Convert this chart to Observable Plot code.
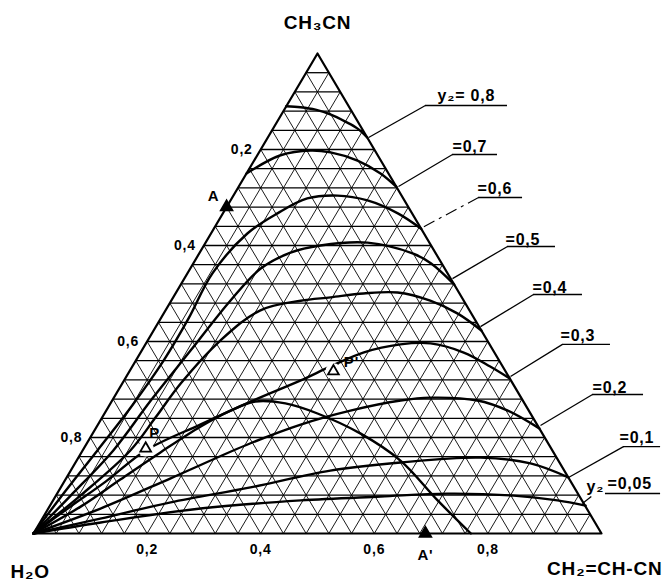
<!DOCTYPE html>
<html><head><meta charset="utf-8">
<script src="https://cdn.jsdelivr.net/npm/d3@7"></script>
<script src="https://cdn.jsdelivr.net/npm/@observablehq/plot@0.6"></script>
<style>body{margin:0;background:#fff}#chart{width:664px;height:583px}</style>
</head><body><div id="chart"></div>
<script>
// Compositions: [acrylonitrile, acetonitrile]; water = 1 - both
const y2Labels = ["y₂= 0,8", "=0,7", "=0,6", "=0,5", "=0,4", "=0,3", "=0,2", "=0,1", "=0,05"];
const curve08 = [[0,0.89],[0.026,0.888],[0.055,0.883],[0.086,0.873],[0.12,0.858],[0.148,0.844],[0.175,0.825]];
const curve07 = [[0,0.75],[0.041,0.788],[0.089,0.798],[0.126,0.794],[0.182,0.777],[0.236,0.75],[0.278,0.722]];
const curve06 = [[0,0],[0.01,0.075],[0.026,0.173],[0.04,0.263],[0.049,0.36],[0.049,0.448],[0.044,0.542],[0.064,0.625],[0.096,0.667],[0.133,0.698],[0.183,0.704],[0.241,0.694],[0.308,0.667],[0.365,0.635]];
const curve05 = [[0,0],[0.026,0.079],[0.054,0.173],[0.068,0.277],[0.086,0.381],[0.104,0.485],[0.124,0.552],[0.16,0.585],[0.205,0.6],[0.285,0.606],[0.377,0.583],[0.418,0.563],[0.481,0.519]];
const curve04 = [[0,0],[0.043,0.079],[0.084,0.173],[0.094,0.242],[0.103,0.313],[0.128,0.402],[0.167,0.465],[0.228,0.485],[0.277,0.492],[0.331,0.5],[0.39,0.502],[0.456,0.485],[0.518,0.458],[0.577,0.423]];
const curve03 = [[0,0],[0.037,0.056],[0.073,0.108],[0.111,0.173],[0.18,0.227],[0.251,0.279],[0.311,0.319],[0.349,0.348],[0.392,0.377],[0.449,0.394],[0.501,0.396],[0.569,0.377],[0.63,0.348],[0.677,0.323]];
const curve02 = [[0,0],[0.092,0.052],[0.184,0.115],[0.288,0.188],[0.357,0.227],[0.43,0.256],[0.508,0.277],[0.557,0.283],[0.643,0.277],[0.707,0.256],[0.781,0.219]];
const curve01 = [[0,0],[0.102,0.031],[0.209,0.065],[0.334,0.096],[0.457,0.131],[0.572,0.148],[0.708,0.158],[0.802,0.146],[0.883,0.117]];
const curve005 = [[0,0],[0.107,0.023],[0.268,0.052],[0.436,0.069],[0.573,0.077],[0.687,0.083],[0.806,0.079],[0.888,0.069],[0.943,0.058]];
const boundary = [[0,0],[0.055,0.056],[0.097,0.113],[0.139,0.169],[0.183,0.223],[0.219,0.256],[0.253,0.275],[0.308,0.271],[0.375,0.25],[0.472,0.208],[0.57,0.152],[0.677,0.069],[0.77,0]];
const pointNames = ["A", "A'", "P", "P'"];
const pointComps = [[0,0.68],[0.69,0],[0.109,0.177],[0.359,0.338]];
const tickValues = [0.2, 0.4, 0.6, 0.8];
const tickLabels = ["0,2", "0,4", "0,6", "0,8"];
const gridDivisions = 25;

// label layout (chart fractions: X along base, Y height)
const leaderLayout = [
  {tx:0.7113, ty:0.9125, u1:0.690, u2:0.8345, uy:0.8917, px:0.590, py:0.825},
  {tx:0.7377, ty:0.8063, u1:0.7377, u2:0.8169, uy:0.7896, px:0.6426, py:0.7229},
  {tx:0.7817, ty:0.7188, u1:0.7835, u2:0.861, uy:0.70, px:0.6849, py:0.6375, dash:true},
  {tx:0.831, ty:0.6125, u1:0.8345, u2:0.919, uy:0.598, px:0.7377, py:0.531},
  {tx:0.8785, ty:0.5125, u1:0.8803, u2:0.9665, uy:0.498, px:0.787, py:0.431},
  {tx:0.9278, ty:0.4125, u1:0.9313, u2:1.0158, uy:0.394, px:0.8398, py:0.327},
  {tx:0.9842, ty:0.3042, u1:0.9842, u2:1.074, uy:0.2896, px:0.8926, py:0.225},
  {tx:1.0317, ty:0.2, u1:1.0387, u2:1.104, uy:0.181, px:0.942, py:0.1167},
  {tx:1.0106, ty:0.1042, u1:1.007, u2:1.104, uy:0.0833, px:null}
];
const pointLabelOffsets = {"A": [-13, -11], "A'": [0, 22], "P": [9, -15], "P'": [18, -9]};

const proj = ([a, c]) => ({x: a + c / 2, y: c});
const curves = [curve08, curve07, curve06, curve05, curve04, curve03, curve02, curve01, curve005, boundary];
const curveData = curves.flatMap((pts, i) => pts.map(p => ({...proj(p), z: i})));

const grid = [];
for (let i = 1; i < gridDivisions; i++) {
  const k = i / gridDivisions;
  grid.push({x1: k / 2, y1: k, x2: 1 - k / 2, y2: k, h: true});
  grid.push({x1: k, y1: 0, x2: k + (1 - k) / 2, y2: 1 - k, h: false});
  grid.push({x1: 1 - k, y1: 0, x2: (1 - k) / 2, y2: 1 - k, h: false});
}
const border = [[0,0],[1,0],[0,1],[0,0]].map(proj);

const leaders = [], underlines = [], labelTexts = [];
leaderLayout.forEach((L, i) => {
  underlines.push({x1: L.u1, x2: L.u2, y: L.uy});
  if (L.px !== null) leaders.push({x1: L.u1, y1: L.uy, x2: L.px, y2: L.py, dash: !!L.dash});
  labelTexts.push({x: L.tx, y: L.ty, t: y2Labels[i]});
});
const extraY2 = [{x: 0.9736, y: 0.0979, t: "y₂"}];
const extraLeader = [{x1: 0.982, y1: 0.077, x2: 0.9665, y2: 0.0625, dash: false}];

const pts = pointNames.map((n, i) => ({...proj(pointComps[i]), n}));
const leftTicks = tickValues.map((w, i) => ({...proj([0, 1 - w]), t: tickLabels[i]}));
const bottomTicks = tickValues.map((v, i) => ({...proj([v, 0]), t: tickLabels[i]}));

const font = "Liberation Sans, DejaVu Sans, Arial, sans-serif";
const bold = {fontWeight: "bold", fill: "#000"};
const chart = Plot.plot({
  width: 664, height: 583, margin: 0,
  x: {domain: [0, 1], range: [33, 601], axis: null},
  y: {domain: [0, 1], range: [533, 53], axis: null},
  style: {fontFamily: font, background: "#fff", letterSpacing: "0.8px"},
  marks: [
    Plot.link(grid.filter(d => !d.h), {x1: "x1", y1: "y1", x2: "x2", y2: "y2", stroke: "#000", strokeWidth: 0.9}),
    Plot.link(grid.filter(d => d.h), {x1: "x1", y1: "y1", x2: "x2", y2: "y2", stroke: "#000", strokeWidth: 1.3}),
    Plot.line(border, {x: "x", y: "y", stroke: "#000", strokeWidth: 2.2}),
    Plot.line(curveData, {x: "x", y: "y", z: "z", stroke: "#000", strokeWidth: 2.4, curve: "catmull-rom"}),
    Plot.dot(pts.filter(d => d.n[0] === "P"), {x: "x", y: "y", r: 8, fill: "#fff", stroke: null}),
    Plot.link(leaders.filter(d => !d.dash).concat(extraLeader), {x1: "x1", y1: "y1", x2: "x2", y2: "y2", stroke: "#000", strokeWidth: 1.3}),
    Plot.link(leaders.filter(d => d.dash), {x1: "x1", y1: "y1", x2: "x2", y2: "y2", stroke: "#000", strokeWidth: 1.1, strokeDasharray: "12,5,3,5"}),
    Plot.ruleY(underlines, {x1: "x1", x2: "x2", y: "y", stroke: "#000", strokeWidth: 1.4}),
    Plot.text(labelTexts, {x: "x", y: "y", text: "t", textAnchor: "start", fontSize: 16, ...bold}),
    Plot.text(extraY2, {x: "x", y: "y", text: "t", textAnchor: "start", fontSize: 16, ...bold}),
    Plot.text(leftTicks, {x: "x", y: "y", text: "t", textAnchor: "end", dx: -8, fontSize: 14, ...bold}),
    Plot.text(bottomTicks, {x: "x", y: "y", text: "t", dy: 16, fontSize: 14, ...bold}),
    Plot.dot(pts.filter(d => d.n[0] === "A"), {x: "x", y: "y", symbol: "triangle", r: 4.5, fill: "#000", stroke: "#000"}),
    Plot.dot(pts.filter(d => d.n[0] === "P"), {x: "x", y: "y", symbol: "triangle", r: 4, fill: "#fff", stroke: "#000", strokeWidth: 1.8}),
    ...pts.map(p => Plot.text([p], {x: "x", y: "y", text: "n", fontSize: 15, ...bold,
      dx: pointLabelOffsets[p.n][0], dy: pointLabelOffsets[p.n][1]})),
    Plot.text([{x: 0.5, y: 1.0646, t: "CH₃CN"}], {x: "x", y: "y", text: "t", fontSize: 19, ...bold}),
    Plot.text([{x: -0.0405, y: -0.0792, t: "H₂O"}], {x: "x", y: "y", text: "t", textAnchor: "start", fontSize: 19, ...bold}),
    Plot.text([{x: 1.1074, y: -0.0729, t: "CH₂=CH-CN"}], {x: "x", y: "y", text: "t", textAnchor: "end", fontSize: 19, ...bold})
  ]
});
document.getElementById("chart").appendChild(chart);
</script></body></html>
